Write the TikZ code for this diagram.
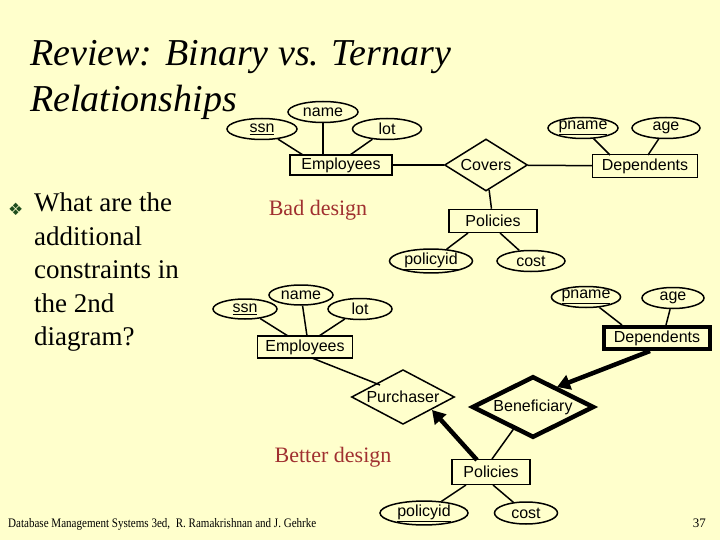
\documentclass[tikz,border=0pt]{standalone}
\usepackage{fontspec}
\setmainfont{Liberation Serif}
\setsansfont{Liberation Sans}
\newfontfamily\dejavu{DejaVu Sans}
\usetikzlibrary{shapes.geometric,arrows.meta}
\definecolor{bg}{HTML}{FFFFCC}
\definecolor{dred}{HTML}{A03030}
\definecolor{dgreen}{HTML}{1E4D1E}
\begin{document}
\begin{tikzpicture}[x=1pt,y=-1pt,
  attr/.style={ellipse,draw,line width=1.5pt,inner sep=0pt,minimum width=68pt,minimum height=21pt,font=\sffamily\fontsize{16}{16}\selectfont},
  ent/.style={rectangle,draw,line width=1.5pt,inner sep=0pt,font=\sffamily\fontsize{16}{16}\selectfont},
  rel/.style={diamond,draw,line width=1.5pt,inner sep=0pt,aspect=1.7,font=\sffamily\fontsize{16}{16}\selectfont},
  con/.style={draw,line width=1.5pt},
  bold/.style={draw,line width=4.5pt,-{Triangle[length=13pt,width=15pt]}}]
\fill[bg] (0,0) rectangle (720,540);
\useasboundingbox (0,0) rectangle (720,540);
% title
\node[anchor=base west,inner sep=0pt,font=\fontsize{38}{38}\selectfont\itshape] (t1) at (30,66) {Review: Binary vs. Ternary};
\node[anchor=base west,inner sep=0pt,font=\fontsize{38}{38}\selectfont\itshape] (t2) at (30,112) {Relationships};
% bullet
\node[anchor=base west,inner sep=0pt,text=dgreen,font=\dejavu\fontsize{17}{17}\selectfont] (bul) at (8,215) {❖};
\node[anchor=north west,inner sep=0pt,align=left,font=\fontsize{27}{33.5}\selectfont] (q) at (34,193) {What are the\\additional\\constraints in\\the 2nd\\diagram?};
% top diagram
\node[ent,minimum width=102pt,minimum height=20pt] (E1) at (341,165) {Employees};
\node[attr,minimum width=70pt] (ssn1) at (262,129) {\underline{ssn}};
\node[attr,minimum width=70pt] (name1) at (323,112) {name};
\node[attr,minimum width=69pt] (lot1) at (387,129) {lot};
\node[rel,minimum width=83pt,minimum height=52pt] (C) at (486,165) {Covers};
\node[ent,minimum width=105pt,minimum height=23pt] (D1) at (645,166) {Dependents};
\node[attr,minimum width=70pt] (pn1) at (583,128) {\underline{pname}};
\node[attr] (age1) at (666,128) {age};
\node[ent,minimum width=88pt,minimum height=23pt] (P1) at (493,221) {Policies};
\node[attr,minimum width=83pt] (pid1) at (431,261) {\underline{policyid}};
\node[attr] (cost1) at (531,261) {cost};
\node[text=dred,font=\fontsize{22}{22}\selectfont] (bad) at (318,210) {Bad design};
\draw[con] (ssn1) -- (303,155);
\draw[con] (name1) -- (323,155);
\draw[con] (lot1) -- (350,155);
\draw[con] (E1) -- (C);
\draw[con] (C) -- (D1);
\draw[con] (C) -- (P1);
\draw[con] (pn1) -- (610,155);
\draw[con] (age1) -- (648,155);
\draw[con] (468,233) -- (pid1);
\draw[con] (500,233) -- (cost1);
% bottom diagram
\node[ent,minimum width=95pt,minimum height=22pt] (E2) at (305,347) {Employees};
\node[attr,minimum width=64pt,minimum height=20pt] (ssn2) at (245,309) {\underline{ssn}};
\node[attr,minimum width=64pt,minimum height=20pt] (name2) at (301,295) {name};
\node[attr,minimum width=64pt] (lot2) at (360,309) {lot};
\node[ent,line width=4pt,minimum width=106pt,minimum height=22pt] (D2) at (657,338) {Dependents};
\node[attr,minimum width=68pt] (pn2) at (586,297) {\underline{pname}};
\node[attr,minimum width=62pt] (age2) at (673,298) {age};
\node[rel,minimum width=103pt,minimum height=49pt] (Pu) at (403,397) {Purchaser};
\node[rel,line width=4.5pt,minimum width=122pt,minimum height=46pt] (Be) at (533,407) {Beneficiary};
\node[ent,minimum width=78pt,minimum height=25pt] (P2) at (491,472) {Policies};
\node[attr,minimum width=88pt,minimum height=23pt] (pid2) at (424,513) {\underline{policyid}};
\node[attr,minimum width=63pt,minimum height=22pt] (cost2) at (526,513) {cost};
\node[text=dred,font=\fontsize{22}{22}\selectfont] (better) at (333,457) {Better design};
\draw[con] (ssn2) -- (288,336);
\draw[con] (name2) -- (307,336);
\draw[con] (lot2) -- (319,336);
\draw[con] (312,358) -- (380,385);
\draw[con] (pn2) -- (622,325);
\draw[con] (age2) -- (666,325);
\draw[bold] (650,351) -- (557,387);
\draw[bold] (477,460) -- (432,410);
\draw[con] (515,427) -- (492,459);
\draw[con] (466,485) -- (pid2);
\draw[con] (493,485) -- (cost2);
% footer
\node[anchor=base west,inner sep=0pt,font=\fontsize{13}{13}\selectfont] (foot) at (8,527) {\scalebox{0.85}[1]{Database Management Systems 3ed,\ \ R. Ramakrishnan and J. Gehrke}};
\node[anchor=base east,inner sep=0pt,font=\fontsize{13}{13}\selectfont] (pg) at (706,527) {37};
\end{tikzpicture}
\end{document}
